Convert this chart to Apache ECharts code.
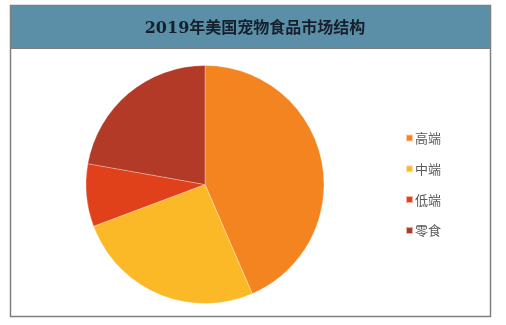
<!DOCTYPE html>
<html><head><meta charset="utf-8">
<script src="https://cdn.jsdelivr.net/npm/echarts@6/dist/echarts.min.js"></script>
<style>html,body{margin:0;padding:0;background:#fff}#c{width:506px;height:325px}</style>
</head><body><div id="c"></div>
<script>
const titleText = '2019年美国宠物食品市场结构';
const categories = ['高端', '中端', '低端', '零食'];
const values = [43.5, 25.8, 8.5, 22.2];
const colors = ['#f3841f', '#fbb927', '#e0401a', '#b33a26'];

const chart = echarts.init(document.getElementById('c'));
chart.setOption({
  animation: false,
  graphic: [
    {type: 'rect', shape: {x: 10.5, y: 5.5, width: 480, height: 311}, style: {fill: '#fff', stroke: '#7f7f7f', lineWidth: 1.5}, z: -10},
    {type: 'rect', shape: {x: 10.5, y: 5.5, width: 480, height: 43}, style: {fill: '#5b8fa8', stroke: '#7f7f7f', lineWidth: 1}, z: -9}
  ],
  title: {
    text: titleText, left: 250, top: 16, textAlign: 'center',
    textStyle: {fontFamily: 'DejaVu Serif, "Noto Sans CJK SC"', fontSize: 16, fontWeight: 'bold', color: '#16202a'}
  },
  legend: {
    orient: 'vertical', left: 400, top: 126, itemWidth: 7, itemHeight: 7, itemGap: 16.8,
    icon: 'rect',
    textStyle: {fontFamily: '"Noto Sans CJK SC"', fontSize: 13, color: '#595959', lineHeight: 14, padding: [0,0,0,-3]},
    data: categories
  },
  series: [{
    type: 'pie', center: [205, 184.5], radius: 119, startAngle: 90, clockwise: true,
    label: {show: false}, labelLine: {show: false},
    itemStyle: {borderColor: 'rgba(255,255,255,0.6)', borderWidth: 0.5},
    data: categories.map((c, i) => ({name: c, value: values[i], itemStyle: {color: colors[i]}}))
  }]
});
</script></body></html>
